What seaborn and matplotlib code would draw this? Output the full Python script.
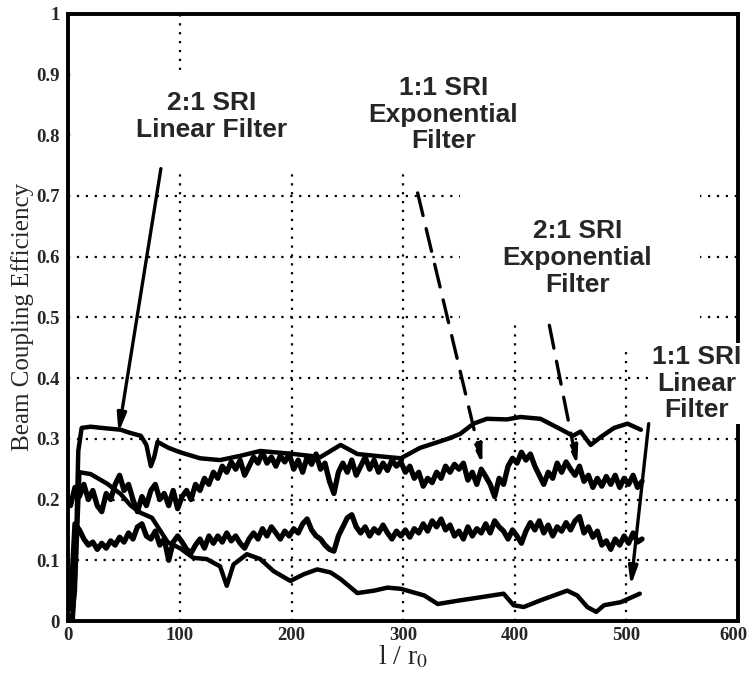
import numpy as np
import pandas as pd
import matplotlib
matplotlib.use("Agg")
import matplotlib.pyplot as plt
import matplotlib.transforms as mtransforms
import seaborn as sns
from matplotlib.patches import Rectangle

sns.set_theme(style="white")
plt.rcParams["font.family"] = ["Liberation Serif", "DejaVu Serif"]
plt.rcParams["mathtext.fontset"] = "stix"

# ---------------- data ----------------
x_ticks = [0, 100, 200, 300, 400, 500, 600]
x_tick_labels = ["0", "100", "200", "300", "400", "500", "600"]
y_ticks = [0, 0.1, 0.2, 0.3, 0.4, 0.5, 0.6, 0.7, 0.8, 0.9, 1.0]
y_tick_labels = ["0", "0.1", "0.2", "0.3", "0.4", "0.5", "0.6", "0.7", "0.8", "0.9", "1"]

# 2:1 SRI Linear Filter (smooth, top)
lin21_x = [3, 6, 9, 12, 20, 30, 47, 55, 65, 70, 74, 77, 80, 90, 100, 118, 136, 154, 172,
           202, 226, 244, 259, 286, 298, 315, 340, 351, 363, 375, 393, 405, 423, 441, 452,
           459, 468, 477, 489, 501, 513]
lin21_y = [0.0, 0.05, 0.28, 0.318, 0.32, 0.318, 0.315, 0.31, 0.305, 0.29, 0.255, 0.27, 0.295,
           0.285, 0.278, 0.268, 0.265, 0.272, 0.28, 0.275, 0.27, 0.29, 0.275, 0.27, 0.268,
           0.285, 0.3, 0.308, 0.325, 0.333, 0.332, 0.336, 0.333, 0.316, 0.305, 0.312, 0.29,
           0.303, 0.318, 0.325, 0.315]

# 1:1 SRI Linear Filter (smooth, bottom)
lin11_x = [4, 7, 10, 20, 35, 47, 56, 65, 75, 89, 100, 112, 124, 136, 142, 148, 160, 172, 184,
           199, 211, 223, 235, 244, 259, 274, 286, 298, 319, 331, 351, 369, 390, 399, 408,
           423, 435, 447, 456, 465, 473, 480, 495, 512]
lin11_y = [0.0, 0.1, 0.245, 0.242, 0.226, 0.209, 0.19, 0.178, 0.17, 0.13, 0.12, 0.104, 0.102,
           0.09, 0.058, 0.093, 0.11, 0.102, 0.082, 0.066, 0.077, 0.085, 0.08, 0.069, 0.046,
           0.05, 0.055, 0.053, 0.042, 0.028, 0.034, 0.039, 0.045, 0.026, 0.023, 0.034, 0.042,
           0.05, 0.042, 0.023, 0.015, 0.026, 0.031, 0.045]

# noisy series sampled every 4 units of l/r0
exp_x = list(range(2, 515, 4))

# 1:1 SRI Exponential Filter (noisy, upper)
exp11_y = [0.19, 0.22, 0.205, 0.225, 0.2, 0.215, 0.19, 0.18, 0.21, 0.2,
           0.225, 0.24, 0.215, 0.225, 0.2, 0.18, 0.205, 0.19, 0.215, 0.225,
           0.2, 0.21, 0.19, 0.215, 0.185, 0.205, 0.215, 0.2, 0.225, 0.215,
           0.235, 0.225, 0.245, 0.235, 0.255, 0.245, 0.262, 0.25, 0.265, 0.24,
           0.255, 0.27, 0.26, 0.278, 0.26, 0.27, 0.255, 0.272, 0.262, 0.275,
           0.25, 0.265, 0.245, 0.27, 0.258, 0.275, 0.25, 0.26, 0.23, 0.21,
           0.245, 0.26, 0.245, 0.265, 0.24, 0.255, 0.27, 0.25, 0.265, 0.245,
           0.26, 0.248, 0.265, 0.255, 0.262, 0.245, 0.255, 0.235, 0.245, 0.222,
           0.235, 0.228, 0.245, 0.235, 0.255, 0.245, 0.258, 0.25, 0.26, 0.232,
           0.245, 0.225, 0.25, 0.238, 0.225, 0.205, 0.235, 0.225, 0.255, 0.268,
           0.26, 0.278, 0.265, 0.275, 0.255, 0.24, 0.225, 0.245, 0.235, 0.26,
           0.245, 0.262, 0.25, 0.24, 0.255, 0.23, 0.24, 0.22, 0.235, 0.222,
           0.238, 0.225, 0.24, 0.22, 0.235, 0.225, 0.24, 0.22, 0.23]

# 2:1 SRI Exponential Filter (noisy, lower)
exp21_y = [0.02, 0.16, 0.15, 0.135, 0.125, 0.13, 0.118, 0.128, 0.12, 0.132,
           0.125, 0.138, 0.13, 0.145, 0.135, 0.155, 0.16, 0.14, 0.135, 0.148,
           0.125, 0.135, 0.1, 0.13, 0.14, 0.13, 0.118, 0.112, 0.125, 0.135,
           0.12, 0.14, 0.128, 0.14, 0.13, 0.145, 0.132, 0.14, 0.128, 0.12,
           0.135, 0.145, 0.135, 0.152, 0.14, 0.155, 0.145, 0.135, 0.148, 0.14,
           0.152, 0.145, 0.16, 0.168, 0.15, 0.14, 0.135, 0.125, 0.118, 0.115,
           0.14, 0.155, 0.17, 0.175, 0.155, 0.145, 0.155, 0.14, 0.152, 0.145,
           0.158, 0.145, 0.135, 0.148, 0.14, 0.15, 0.138, 0.152, 0.145, 0.16,
           0.148, 0.165, 0.155, 0.168, 0.15, 0.158, 0.14, 0.148, 0.135, 0.155,
           0.14, 0.152, 0.145, 0.16, 0.145, 0.165, 0.155, 0.148, 0.135, 0.15,
           0.14, 0.128, 0.148, 0.162, 0.15, 0.165, 0.145, 0.158, 0.14, 0.155,
           0.148, 0.162, 0.15, 0.165, 0.172, 0.145, 0.155, 0.138, 0.148, 0.125,
           0.132, 0.118, 0.135, 0.125, 0.14, 0.128, 0.145, 0.13, 0.135]

labels = ["2:1 SRI\nLinear Filter", "1:1 SRI\nExponential\nFilter",
          "2:1 SRI\nExponential\nFilter", "1:1 SRI\nLinear\nFilter"]
label_pos = [(128, 0.831), (336, 0.834), (456, 0.598), (563, 0.391)]
arrow_start = [(83, 0.745), (313, 0.705), (431, 0.487), (520, 0.325)]
arrow_end = [(45, 0.31), (371, 0.258), (456, 0.256), (504, 0.058)]
arrow_dashed = [False, True, True, False]

# ---------------- plot ----------------
fig = plt.figure(figsize=(7.5, 6.9), dpi=100)
ax = fig.add_axes([0.091, 0.10, 0.893, 0.88])

series = [(lin21_x, lin21_y, 3.2), (lin11_x, lin11_y, 3.2),
          (exp_x, exp11_y, 3.8), (exp_x, exp21_y, 3.8)]
for xs, ys, lw in series:
    d = pd.DataFrame({"x": xs, "y": ys})
    sns.lineplot(data=d, x="x", y="y", ax=ax, color="black", lw=lw,
                 estimator=None, sort=False, legend=False, zorder=3)

ax.set_xlim(0, 600)
ax.set_ylim(0, 1)
ax.set_xticks(x_ticks)
ax.set_xticklabels(x_tick_labels, fontsize=13.5, fontweight="bold")
ax.set_yticks(y_ticks)
ax.set_yticklabels(y_tick_labels, fontsize=13.5, fontweight="bold")
ax.tick_params(direction="in", length=6, width=1.5, color="black")
ax.tick_params(axis="y", pad=6)
ax.tick_params(axis="x", pad=4)
last = ax.get_xticklabels()[-1]
last.set_transform(last.get_transform() +
                   mtransforms.ScaledTranslation(-5 / 100, 0, fig.dpi_scale_trans))
ax.set_axisbelow(True)
ax.grid(True, color="black", linestyle=(0, (1, 3)), linewidth=1.6)
for s in ax.spines.values():
    s.set_color("black")
    s.set_linewidth(2.8)

ax.set_xlabel(r"l / r$_0$", fontsize=20, labelpad=0)
ax.set_ylabel("Beam Coupling Efficiency", fontsize=18, labelpad=2)

# white areas of the original where the grid is not drawn
for (x0, y0, w, h) in [(4, 0.74, 594, 0.166), (150, 0.9, 448, 0.098),
                       (351, 0.49, 215, 0.25), (457, 0.45, 55, 0.07)]:
    ax.add_patch(Rectangle((x0, y0), w, h, facecolor="white", edgecolor="none", zorder=1))

for txt, (tx, ty) in zip(labels, label_pos):
    bb = dict(facecolor="white", edgecolor="none", pad=1) if txt.startswith("1:1 SRI\nLinear") else None
    ax.text(tx, ty, txt, ha="center", va="center", fontsize=19, fontweight="bold",
            family=["Liberation Sans", "DejaVu Sans"], linespacing=1.15, zorder=4, bbox=bb)

for (sx, sy), (ex, ey), dashed in zip(arrow_start, arrow_end, arrow_dashed):
    ax.annotate("", xy=(ex, ey), xytext=(sx, sy),
                arrowprops=dict(arrowstyle="-|>,head_length=0.9,head_width=0.22",
                                color="black", lw=2.4,
                                linestyle=(0, (7, 4)) if dashed else "-",
                                shrinkA=0, shrinkB=0),
                zorder=5)

fig.savefig("out.png", dpi=100)
